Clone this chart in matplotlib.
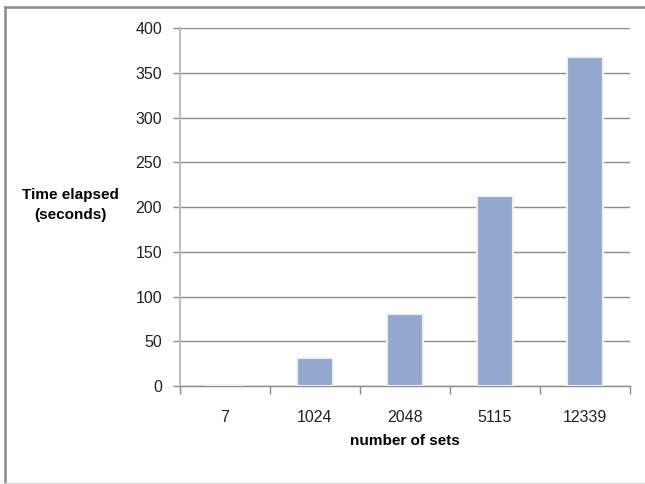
import numpy as np
import matplotlib.pyplot as plt
from matplotlib.lines import Line2D

# number of sets vs. elapsed time
set_counts = ['7', '1024', '2048', '5115', '12339']
elapsed = [0.8, 31, 80, 213, 368]
yticks = [0, 50, 100, 150, 200, 250, 300, 350, 400]

bar_color = '#95a9cf'
grid_color = '#8c8c8c'

plt.rcParams['font.family'] = ['Liberation Sans', 'DejaVu Sans']

fig = plt.figure(figsize=(6.45, 4.84), dpi=100)
ax = fig.add_axes([180/645, 1 - 386/484, 450/645, (386 - 28.3)/484])

x = np.arange(len(set_counts))
ax.bar(x, elapsed, width=0.39, color=bar_color, edgecolor='#f2f2f2',
       linewidth=1.5, zorder=3)

ax.set_xlim(-0.5, len(set_counts) - 0.5)
ax.set_ylim(0, 400)
ax.set_yticks(yticks)
ax.yaxis.grid(True, color=grid_color, linewidth=1.0, zorder=0)
ax.set_axisbelow(True)

# category labels at centres, tick marks on the boundaries
ax.set_xticks(x)
ax.set_xticklabels(set_counts)
ax.set_xticks(np.arange(-0.5, len(set_counts)), minor=True)
ax.tick_params(axis='x', which='major', length=0, pad=17, labelsize=11.5,
               labelcolor='#222222')
ax.tick_params(axis='x', which='minor', length=6, width=1, color=grid_color,
               direction='out')
ax.tick_params(axis='y', length=5, width=1, color=grid_color, pad=8,
               labelsize=11.5, labelcolor='#222222')

for side in ['top', 'right']:
    ax.spines[side].set_visible(False)
ax.spines['left'].set_color('#bdbdbd')
ax.spines['left'].set_linewidth(1.5)
ax.spines['bottom'].set_color(grid_color)
ax.spines['bottom'].set_linewidth(1.0)

fig.text(70/645, 1 - 205/484, 'Time elapsed\n(seconds)', ha='center',
         va='center', fontsize=11, fontweight='bold', linespacing=1.5)
fig.text(405/645, 1 - 441/484, 'number of sets', ha='center', va='center',
         fontsize=11, fontweight='bold')

# chart frame
fx0, fx1 = 5/645, 1.0
fy0, fy1 = 1 - 482.5/484, 1 - 6.5/484
frame = dict(color='#8a8a8a', linewidth=1.8, transform=fig.transFigure)
fig.add_artist(Line2D([fx0, fx1], [fy1, fy1], **frame))
fig.add_artist(Line2D([fx0, fx0], [fy0, fy1], **frame))
fig.add_artist(Line2D([fx0, fx1], [fy0, fy0], color='#d8d8d8', linewidth=1.0,
                      transform=fig.transFigure))

fig.savefig('out.png', dpi=100)
